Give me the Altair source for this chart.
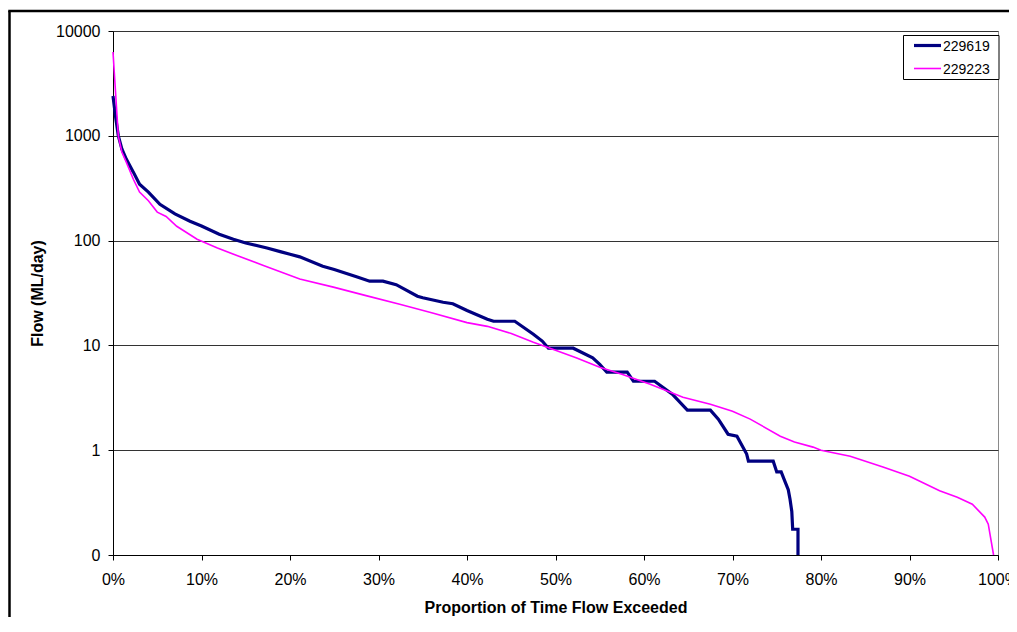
import altair as alt
import pandas as pd

# ---------------- data ----------------
series_names = ["229619", "229223"]
series_colors = ["#000080", "#FF00FF"]
series_widths = [3.2, 1.6]

# 229619 : percent of time exceeded, flow (ML/day)
pct_229619 = [0, 0.3, 0.6, 1.0, 1.5, 2.3, 3.0, 4.0, 5.3, 7.0, 8.7, 10, 12, 13.6, 15,
              17.4, 19, 20, 21.1, 23.7, 25, 27.6, 29, 30.5, 32, 34.4, 35, 37.3, 38.4, 40,
              42.3, 43, 45.4, 47.5, 48.5, 49.2, 52, 54.2, 55, 55.8, 58.1, 58.8, 61.2, 63.2,
              64.9, 67.5, 68.4, 69.5, 70.5, 71.6, 71.8, 74.6, 75.0, 75.5, 75.9, 76.3, 76.5,
              76.7, 76.8, 77.4, 77.4]
flow_229619 = [2400, 1500, 1000, 750, 600, 450, 345, 290, 222, 180, 153, 138, 115, 103, 95,
               85, 78, 74, 70, 57, 53, 45, 41, 41, 38, 29.5, 28.5, 25.8, 25, 21.5,
               17.8, 17, 17, 12.8, 11, 9.4, 9.4, 7.6, 6.6, 5.55, 5.55, 4.55, 4.55, 3.42,
               2.41, 2.41, 1.98, 1.42, 1.36, 0.92, 0.785, 0.785, 0.62, 0.62, 0.51, 0.42, 0.34,
               0.26, 0.176, 0.176, 0.1]

# 229223
pct_229223 = [0, 0.3, 0.6, 1.0, 1.5, 2.3, 3.0, 4.0, 5.0, 6.0, 7.2, 9.5, 11.8, 14, 17,
              21.1, 24.9, 28.7, 32.4, 36, 40, 42.3, 45, 47.5, 50, 52.4, 55, 57.5, 60.7, 64.4,
              67.5, 70, 72, 75.4, 77, 79.1, 80, 83.3, 87, 90, 93.4, 95.4, 97.1, 98.5, 98.9, 99.5]
flow_229223 = [6300, 2500, 1000, 700, 560, 385, 290, 240, 187, 170, 137, 103, 85, 72, 58,
               43, 36, 29.7, 24.7, 20.5, 16.5, 15.2, 13, 10.7, 9, 7.6, 6.2, 5.3, 4.26, 3.2,
               2.75, 2.35, 1.98, 1.36, 1.2, 1.07, 1.0, 0.877, 0.69, 0.565, 0.41, 0.356, 0.305, 0.23, 0.197, 0.1]

y_ticks = [0.1, 1, 10, 100, 1000, 10000]
x_ticks = [0, 0.1, 0.2, 0.3, 0.4, 0.5, 0.6, 0.7, 0.8, 0.9, 1.0]

x_title = "Proportion of Time Flow Exceeded"
y_title = "Flow (ML/day)"

# ---------------- build table ----------------
rows = []
for name, pcts, flows in [(series_names[0], pct_229619, flow_229619),
                          (series_names[1], pct_229223, flow_229223)]:
    for i, (p, q) in enumerate(zip(pcts, flows)):
        rows.append({"series": name, "p": p / 100.0, "flow": q, "i": i})
df = pd.DataFrame(rows)
legend_df = pd.DataFrame({"series": series_names})
one_df = pd.DataFrame({"a": [0]})

FONT = "Liberation Sans"
W, H = 885, 524

color_scale = alt.Scale(domain=series_names, range=series_colors)

x_enc = alt.X("p:Q", scale=alt.Scale(domain=[0, 1], nice=False, zero=False),
              axis=alt.Axis(values=x_ticks, format="%", grid=False, tickSize=5,
                            tickColor="black", domainColor="black", labelColor="black",
                            labelFont=FONT, labelFontSize=16, labelPadding=11,
                            labelFlush=False, labelOverlap=False,
                            title=x_title, titleFont=FONT, titleFontSize=16,
                            titleFontWeight="bold", titleColor="black", titlePadding=12))
y_enc = alt.Y("flow:Q", scale=alt.Scale(type="log", domain=[0.1, 10000], nice=False),
              axis=alt.Axis(values=y_ticks,
                            labelExpr="datum.value < 1 ? '0' : format(datum.value, 'd')",
                            grid=True, gridColor="#333333", gridWidth=1,
                            tickSize=5, tickColor="black", domainColor="black",
                            labelColor="black", labelFont=FONT, labelFontSize=16,
                            labelPadding=8, labelFlush=False, labelOverlap=False,
                            title=y_title, titleFont=FONT, titleFontSize=16,
                            titleFontWeight="bold", titleColor="black", titlePadding=10))

layers = []
for k, name in enumerate(series_names):
    layers.append(
        alt.Chart(df).transform_filter(alt.datum.series == name)
        .mark_line(strokeWidth=series_widths[k], strokeJoin="miter")
        .encode(x=x_enc, y=y_enc,
                color=alt.Color("series:N", scale=color_scale, legend=None),
                order="i:Q")
    )

# legend box
layers.append(
    alt.Chart(one_df).mark_rect(fill="white", stroke="black", strokeWidth=1)
    .encode(x=alt.value(790.5), x2=alt.value(886), y=alt.value(4.5), y2=alt.value(48.5))
)
legend_line_y = [14.5, 37.5]
legend_text_y = [16, 38.5]
for k, name in enumerate(series_names):
    sub = alt.Chart(legend_df).transform_filter(alt.datum.series == name)
    layers.append(
        sub.mark_rule(strokeWidth=series_widths[k])
        .encode(x=alt.value(801), x2=alt.value(828), y=alt.value(legend_line_y[k]),
                color=alt.Color("series:N", scale=color_scale, legend=None))
    )
    layers.append(
        sub.mark_text(align="left", baseline="middle", font=FONT, fontSize=14, color="black")
        .encode(x=alt.value(830), y=alt.value(legend_text_y[k]), text="series:N")
    )

# outer chart-area frame (top and left edges visible in the window)
layers.append(
    alt.Chart(one_df).mark_rule(color="black", strokeWidth=2.5)
    .encode(x=alt.value(-103.5), y=alt.value(-20), y2=alt.value(700))
)
layers.append(
    alt.Chart(one_df).mark_rule(color="black", strokeWidth=2.5)
    .encode(x=alt.value(-104.75), x2=alt.value(1000), y=alt.value(-20))
)

chart = (
    alt.layer(*layers)
    .properties(width=W, height=H,
                autosize=alt.AutoSizeParams(type="none"),
                padding={"left": 105, "top": 23, "right": 11, "bottom": 62},
                background="white")
    .configure_view(stroke="#8a8a8a", strokeWidth=1)
)

chart.save("out.html", embed_options={"renderer": "svg", "actions": False})
